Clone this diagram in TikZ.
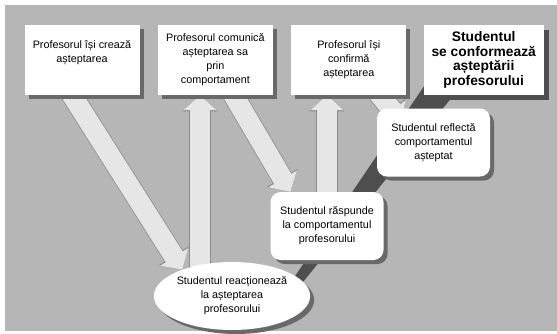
\documentclass[tikz,border=0pt]{standalone}
\usepackage{fontspec}
\setmainfont{Liberation Sans}
\usetikzlibrary{arrows.meta,positioning,calc,shadows,shapes.geometric,backgrounds}
\definecolor{papergray}{RGB}{182,182,182}
\definecolor{arrowgray}{RGB}{230,230,230}
\definecolor{edgegray}{RGB}{140,140,140}
\definecolor{shadegray}{RGB}{105,105,105}
\definecolor{bandgray}{RGB}{78,78,78}

\begin{document}
\begin{tikzpicture}[x=1pt, y=-1pt,
    note/.style={fill=white, minimum width=115pt, minimum height=70pt, align=center, inner sep=2pt, font=\fontsize{10.8}{14}\selectfont},
    card/.style={note, drop shadow={shadow xshift=4pt, shadow yshift=-4pt, fill=shadegray, opacity=1}},
    goal/.style={note, minimum width=120pt, font=\fontsize{13.8}{14.6}\selectfont\bfseries, drop shadow={shadow xshift=5pt, shadow yshift=-5pt, fill=bandgray, opacity=1}},
    bubble/.style={card, rounded corners=10pt, minimum width=113pt, minimum height=68pt},
    oval/.style={card, ellipse, minimum width=149pt, minimum height=68pt, inner sep=0pt},
    flow/.style={line width=20pt, draw=arrowgray, -{Triangle[length=15pt,width=32pt]},
        preaction={draw=edgegray, line width=21.5pt, -{Triangle[length=16.2pt,width=34.5pt]}}}
]
\useasboundingbox (0,0) rectangle (557,333);

% top row
\node[card, text depth=17pt] (b1) at (82,60) {Profesorul își crează\\așteptarea};
\node[card, right=18pt of b1] (b2) {Profesorul comunică\\așteptarea sa\\prin\\comportament};
\node[card, right=18pt of b2] (b3) {Profesorul își\\confirmă\\așteptarea};
\node[goal, right=17pt of b3] (b4) {Studentul\\se conformează\\așteptării\\profesorului};

% student steps
\node[bubble] (rf) at (433.5,142.5) {Studentul reflectă\\comportamentul\\așteptat};
\node[bubble] (rs) at (327,226) {Studentul răspunde\\la comportamentul\\profesorului};
\node[oval] (rc) at (232,296) {Studentul reacționează\\la așteptarea\\profesorului};

\begin{scope}[on background layer]
\fill[papergray] (5,5) rectangle (557,331);
\fill[bandgray] (281.8,295.6) -- (288.2,300.4) -- (457,91) -- (433,73) -- cycle;
\draw[flow] ($(b1.south)+(-15,-8)$) -- (rc.152);
\coordinate (a2) at ($(rc.north)+(-32,10)$);
\draw[flow] (a2) -- (a2 |- b2.south);
\draw[flow] ($(b2.south)+(13.5,-8)$) -- ($(rs.north west)+(20,0)$);
\draw[flow] ($(rs.north)+(0,8)$) -- (rs.north |- b3.south);
\draw[flow] ($(b3.south)+(25,-8)$) -- ($(rf.north west)+(25,14)$);
\end{scope}
\end{tikzpicture}
\end{document}
